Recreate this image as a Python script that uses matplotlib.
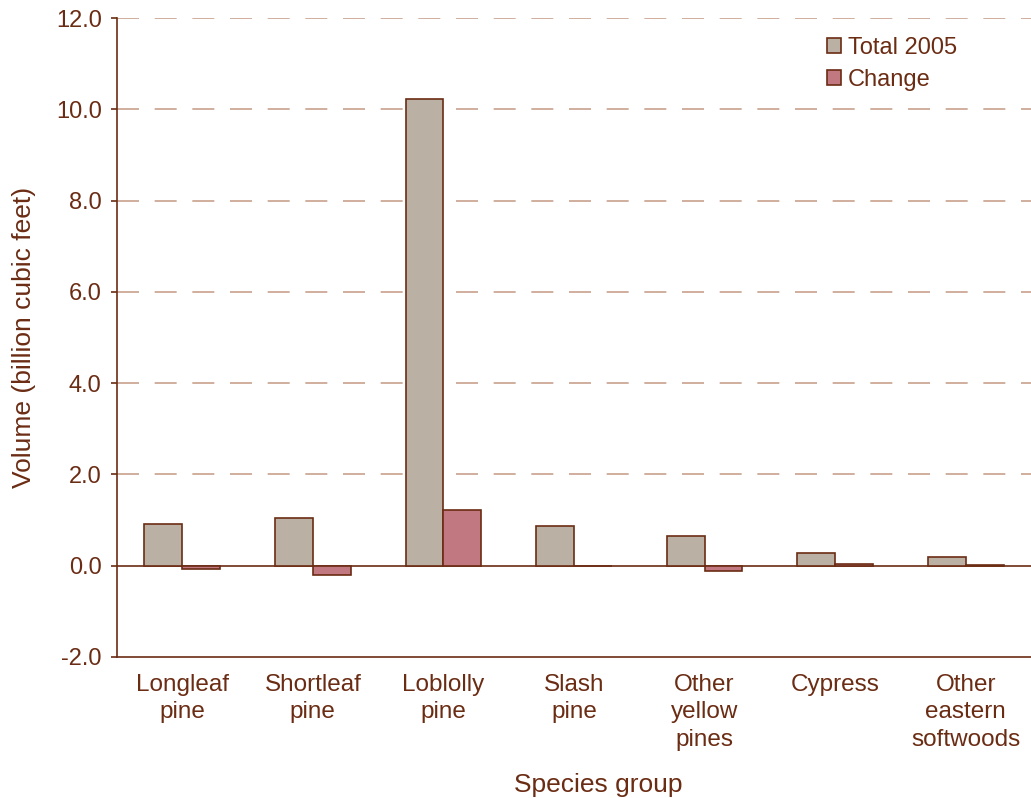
import numpy as np
import matplotlib.pyplot as plt

species = ['Longleaf\npine', 'Shortleaf\npine', 'Loblolly\npine', 'Slash\npine',
           'Other\nyellow\npines', 'Cypress', 'Other\neastern\nsoftwoods']
total_2005 = [0.92, 1.05, 10.23, 0.88, 0.66, 0.28, 0.20]
change = [-0.08, -0.20, 1.23, 0.0, -0.11, 0.04, 0.02]

brown = '#6b2c14'
grid_col = '#c9a18c'

plt.rcParams['font.family'] = ['Liberation Sans', 'DejaVu Sans']
plt.rcParams['font.size'] = 17
plt.rcParams['text.color'] = brown

fig = plt.figure(figsize=(10.31, 7.98), dpi=100)
ax = fig.add_axes([0.1135, 0.1767, 0.8865, 0.8007])

x = np.arange(len(species))
w = 0.29
ax.bar(x - w / 2, total_2005, w, color='#bab0a3', edgecolor=brown, linewidth=1.2,
       label='Total 2005', zorder=3)
ax.bar(x + w / 2, change, w, color='#c27880', edgecolor=brown, linewidth=1.2,
       label='Change', zorder=3)

ax.set_xlim(-0.5, len(species) - 0.5)
ax.set_ylim(-2, 12)
yt = np.arange(-2, 12.1, 2)
ax.set_yticks(yt)
ax.set_yticklabels(['%.1f' % v for v in yt])
for v in yt[1:]:
    if v == 0:
        ax.axhline(0, color=brown, lw=1.2, zorder=2)
    else:
        ax.axhline(v, color=grid_col, lw=1.2, dashes=(13.2, 9.4), zorder=1)

ax.set_xticks(x)
ax.set_xticklabels(species, linespacing=1.32)
ax.tick_params(axis='x', length=0, pad=12, colors=brown, labelsize=17.5)
ax.tick_params(axis='y', length=4, width=1.2, pad=7, colors=brown, labelsize=17)

for s in ['top', 'right']:
    ax.spines[s].set_visible(False)
for s in ['left', 'bottom']:
    ax.spines[s].set_color(brown)
    ax.spines[s].set_linewidth(1.2)

ax.set_ylabel('Volume (billion cubic feet)', color=brown, fontsize=19, labelpad=14)
ax.set_xlabel('Species group', color=brown, fontsize=19, labelpad=16, x=0.526)

leg = ax.legend(loc='upper left', bbox_to_anchor=(0.766, 0.985), frameon=False,
                fontsize=17, handlelength=0.6, handleheight=0.6, handletextpad=0.3,
                labelspacing=0.42, borderaxespad=0)
for t in leg.get_texts():
    t.set_color(brown)

fig.savefig('out.png', dpi=100)
